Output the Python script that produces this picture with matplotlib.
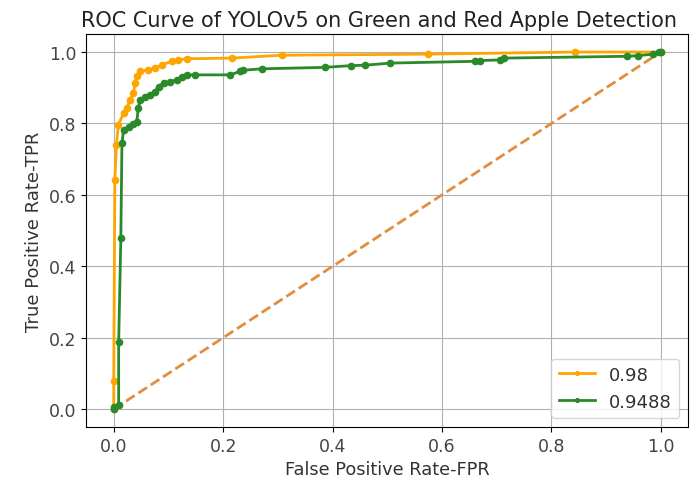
import matplotlib
matplotlib.use('Agg')
import matplotlib.pyplot as plt

# ROC points
fpr_red = [0.0, 0.0, 0.002, 0.005, 0.0085, 0.018, 0.024, 0.030, 0.036, 0.039, 0.042, 0.048,
           0.063, 0.075, 0.088, 0.106, 0.118, 0.133, 0.216, 0.307, 0.575, 0.843, 1.0]
tpr_red = [0.0, 0.08, 0.641, 0.74, 0.796, 0.829, 0.843, 0.866, 0.885, 0.913, 0.932, 0.946,
           0.950, 0.955, 0.964, 0.974, 0.978, 0.981, 0.983, 0.991, 0.994, 1.0, 1.0]

fpr_green = [0.0, 0.0, 0.009, 0.009, 0.013, 0.015, 0.018, 0.027, 0.036, 0.042, 0.045, 0.048,
             0.057, 0.066, 0.075, 0.082, 0.091, 0.103, 0.115, 0.124, 0.133, 0.149, 0.213,
             0.231, 0.237, 0.271, 0.386, 0.434, 0.459, 0.505, 0.661, 0.670, 0.706, 0.713,
             0.938, 0.959, 0.986, 0.996, 1.0]
tpr_green = [0.0, 0.005, 0.012, 0.187, 0.479, 0.744, 0.782, 0.791, 0.799, 0.805, 0.843, 0.866,
             0.875, 0.880, 0.889, 0.903, 0.913, 0.917, 0.922, 0.929, 0.936, 0.936, 0.936,
             0.946, 0.949, 0.953, 0.957, 0.962, 0.963, 0.969, 0.974, 0.976, 0.978, 0.983,
             0.988, 0.990, 0.994, 1.0, 1.0]

labels = ['0.98', '0.9488']

fig = plt.figure(figsize=(6.91, 4.85), dpi=100)
ax = fig.add_axes([0.125, 0.1175, 0.871, 0.81])

ax.plot([0, 1], [0, 1], linestyle='--', color='#e08e3e', linewidth=2)
ax.plot(fpr_red, tpr_red, marker='.', markersize=9, color='orange', linewidth=2, label=labels[0])
ax.plot(fpr_green, tpr_green, marker='.', markersize=9, color='#2a8a2a', linewidth=2, label=labels[1])

ax.set_title('ROC Curve of YOLOv5 on Green and Red Apple Detection', fontsize=15,
             color='#222222', x=0.487)
ax.set_xlabel('False Positive Rate-FPR', fontsize=12.8, color='#333333')
ax.set_ylabel('True Positive Rate-TPR', fontsize=13, color='#333333')
ax.tick_params(labelsize=12.5, labelcolor='#444444')
ax.grid(True)
leg = ax.legend(loc='lower right', fontsize=13, markerscale=0.6)
for t in leg.get_texts():
    t.set_color('#333333')

plt.savefig('out.png', dpi=100)
